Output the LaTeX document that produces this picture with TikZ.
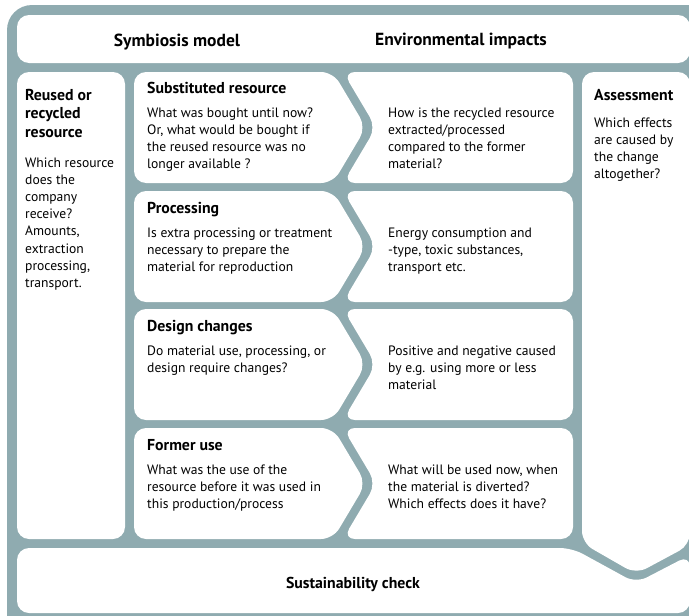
\documentclass[tikz,border=0pt]{standalone}
\usepackage{fontspec}
\setmainfont{PT Sans}
\usepackage{xcolor}
\usetikzlibrary{positioning,calc}
\definecolor{frameteal}{RGB}{143,171,176}
\tikzset{
	panel/.style={fill=white, rounded corners=12pt},
	titletext/.style={anchor=base, inner sep=0, font=\bfseries\fontsize{17.5}{20}\selectfont},
	heading/.style={anchor=base west, inner sep=0, align=left, font=\bfseries\fontsize{15.8}{18.5}\selectfont},
	bodytext/.style={anchor=base west, inner sep=0, align=left, font=\fontsize{13.6}{17.2}\selectfont}
}
\begin{document}
\begin{tikzpicture}[x=1pt, y=-1pt]
	\useasboundingbox (0,0) rectangle (689,616);
	% frame
	\fill[frameteal, rounded corners=25pt] (7,5) rectangle (730,640);
	% white panels
	\fill[panel] (17,15) rectangle (690,63);
	\fill[panel] (17,72) rectangle (125,539);
	\foreach \t/\b in {72/183, 191/302, 309/420, 428/539}{
		\fill[panel] (134,\t) -- (333,\t) -- (366,{(\t+\b)/2}) -- (333,\b) -- (134,\b) -- cycle;
		\fill[panel] (343,\t) -- (573,\t) -- (573,\b) -- (343,\b) -- (376,{(\t+\b)/2}) -- cycle;
	}
	\fill[panel] (582,72) -- (690,72) -- (690,545) -- (636,574) -- (582,543) -- cycle;
	\fill[panel] (17,548) -- (572,548) -- (636,583) -- (690,555) -- (690,613) -- (17,613) -- cycle;

	% header
	\node[titletext] (symb) at (177,46) {Symbiosis model};
	\node[titletext] (env) at (461,45) {Environmental impacts};

	% left column (multi-line texts sit on their last baseline)
	\node[heading] (reused) at (25,137) {Reused or\\recycled\\resource};
	\node[bodytext] (reusedq) at (25,287.4) {Which resource\\does the\\company\\receive?\\Amounts,\\extraction\\processing,\\transport.};

	% rows
	\node[heading] (subst) at (147,93) {Substituted resource};
	\node[bodytext] (substq) at (147,168.6) {What was bought until now?\\Or, what would be bought if\\the reused resource was no\\longer available ?};
	\node[bodytext] (substimp) at (388,168.6) {How is the recycled resource\\extracted/processed\\compared to the former\\material?};

	\node[heading] (proc) at (147,213) {Processing};
	\node[bodytext] (procq) at (147,271.4) {Is extra processing or treatment\\necessary to prepare the\\material for reproduction};
	\node[bodytext] (procimp) at (388,271.4) {Energy consumption and\\-type, toxic substances,\\transport etc.};

	\node[heading] (design) at (147,331) {Design changes};
	\node[bodytext] (designq) at (147,372.2) {Do material use, processing, or\\design require changes?};
	\node[bodytext] (designimp) at (388,389.4) {Positive and negative caused\\by e.g. using more or less\\material};

	\node[heading] (former) at (147,450) {Former use};
	\node[bodytext] (formerq) at (147,508.4) {What was the use of the\\resource before it was used in\\this production/process};
	\node[bodytext] (formerimp) at (388,508.4) {What will be used now, when\\the material is diverted?\\Which effects does it have?};

	% assessment
	\node[heading] (assess) at (594,100) {Assessment};
	\node[bodytext] (assessq) at (594,178.6) {Which effects\\are caused by\\the change\\altogether?};

	% bottom
	\node[titletext, font=\bfseries\fontsize{15.8}{18}\selectfont] (check) at (353,588) {Sustainability check};
\end{tikzpicture}
\end{document}
